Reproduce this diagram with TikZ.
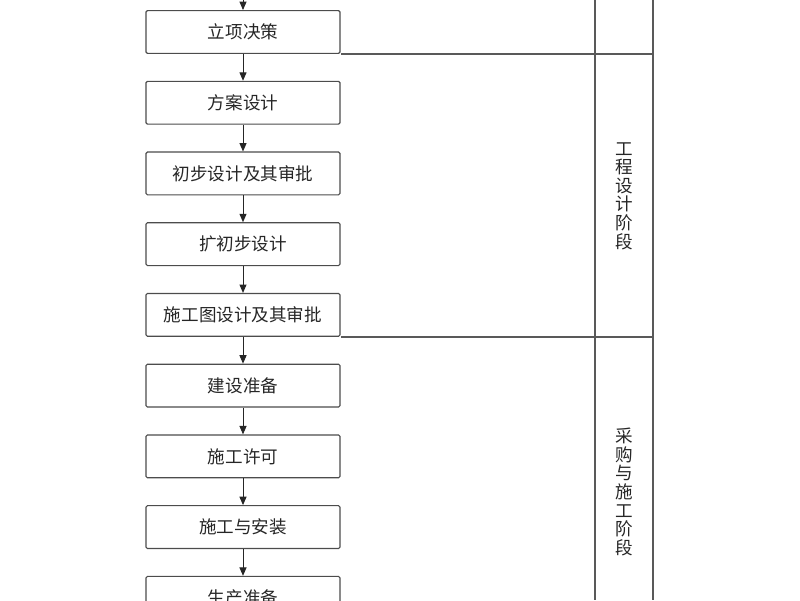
\documentclass[tikz,border=0pt]{standalone}
\usepackage{fontspec}
\newfontfamily\cjk{Noto Sans CJK SC}
\usetikzlibrary{positioning,calc,arrows.meta}
\tikzset{
    flowchart/.style={
        node distance=0.67cm,
        % Stile per le fasi (rettangolo)
        stepbox/.style={draw=black!70, rectangle, line width=0.8pt,
                        rounded corners=1pt, align=center,
                        minimum width=4.85cm, minimum height=1.07cm,
                        inner sep=1pt, text=black!85,
                        font=\cjk\fontsize{12.5}{14}\selectfont},
        % Stile per le frecce
        flow/.style={draw=black!85, line width=0.7pt,
                     -{Triangle[width=5pt,length=6pt]}},
        % Stile per la colonna delle fasi
        frame/.style={draw=black!65, line width=1pt},
        phase/.style={align=center, inner sep=0pt, text=black!85,
                      font=\cjk\fontsize{12.5}{13.2}\selectfont}
    }
}
\begin{document}
\begin{tikzpicture}[flowchart]
    \clip (0,0) rectangle (20,-15);
    \useasboundingbox (0,0) rectangle (20,-15);
    \node[stepbox] (b1) at (6.075,-0.8) {立项决策};
    \node[stepbox, below=of b1] (b2) {方案设计};
    \node[stepbox, below=of b2] (b3) {初步设计及其审批};
    \node[stepbox, below=of b3] (b4) {扩初步设计};
    \node[stepbox, below=of b4] (b5) {施工图设计及其审批};
    \node[stepbox, below=of b5] (b6) {建设准备};
    \node[stepbox, below=of b6] (b7) {施工许可};
    \node[stepbox, below=of b7] (b8) {施工与安装};
    \node[stepbox, below=of b8] (b9) {生产准备};
    \coordinate[above=0.5cm of b1] (start);
    \draw[flow] (start) -- (b1);
    \foreach \a/\b in {b1/b2,b2/b3,b3/b4,b4/b5,b5/b6,b6/b7,b7/b8,b8/b9}
        \draw[flow] (\a) -- (\b);
    % colonna delle fasi
    \coordinate (colL) at (14.875,0);
    \coordinate (colR) at (16.325,0);
    \draw[frame] (colL) -- (colL |- 0,-15);
    \draw[frame] (colR) -- (colR |- 0,-15);
    \draw[frame] (b1.south east) -- (b1.south east -| colR);
    \draw[frame] (b5.south east) -- (b5.south east -| colR);
    \node[phase] (design) at ($(colL)!0.5!(colR) + (0,-4.9)$)
        {工\\程\\设\\计\\阶\\段};
    \node[phase] (build) at ($(colL)!0.5!(colR) + (0,-12.3)$)
        {采\\购\\与\\施\\工\\阶\\段};
\end{tikzpicture}
\end{document}
